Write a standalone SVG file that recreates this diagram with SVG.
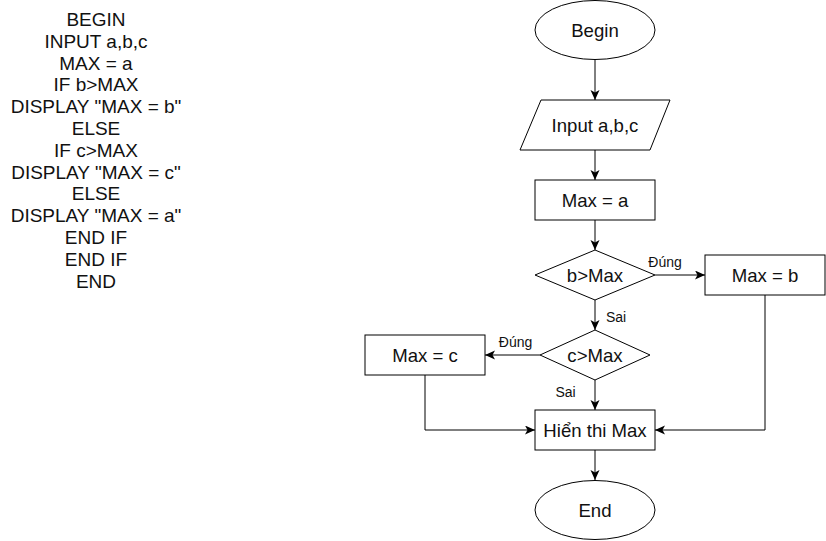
<svg xmlns="http://www.w3.org/2000/svg" width="826" height="541" viewBox="0 0 826 541">
<defs>
<style>
.shape{fill:#fff;stroke:#000;stroke-width:1}
.t{font-family:"Liberation Sans",Arial,sans-serif;font-size:18.6px;fill:#111;text-anchor:middle}
.code{font-family:"Liberation Sans",Arial,sans-serif;font-size:19px;fill:#111;text-anchor:middle}
.lbl{font-family:"Liberation Sans",Arial,sans-serif;font-size:14px;fill:#111;text-anchor:middle}
.edge{fill:none;stroke:#000;stroke-width:1;marker-end:url(#arr)}
</style>
<marker id="arr" markerUnits="userSpaceOnUse" markerWidth="12" markerHeight="10" refX="10" refY="4.5" orient="auto">
<path d="M0,0 L10,4.5 L0,9 L2.5,4.5 z" fill="#000"/>
</marker>
</defs>
<rect width="826" height="541" fill="#fff"/>
<g id="pseudocode" class="code">
<text x="96" y="26">BEGIN</text>
<text x="96" y="47.8">INPUT a,b,c</text>
<text x="96" y="69.6">MAX = a</text>
<text x="96" y="91.4">IF b&gt;MAX</text>
<text x="96" y="113.2">DISPLAY "MAX = b"</text>
<text x="96" y="135">ELSE</text>
<text x="96" y="156.8">IF c&gt;MAX</text>
<text x="96" y="178.6">DISPLAY "MAX = c"</text>
<text x="96" y="200.4">ELSE</text>
<text x="96" y="222.2">DISPLAY "MAX = a"</text>
<text x="96" y="244">END IF</text>
<text x="96" y="265.8">END IF</text>
<text x="96" y="287.6">END</text>
</g>
<g id="connectors">
<path class="edge" d="M595,60 L595,100"/>
<path class="edge" d="M595,150 L595,180"/>
<path class="edge" d="M595,220 L595,250"/>
<path class="edge" d="M655,275 L705,275"/>
<path class="edge" d="M595,300 L595,330"/>
<path class="edge" d="M540,355 L485,355"/>
<path class="edge" d="M595,380 L595,410"/>
<path class="edge" d="M425,375 L425,430 L535,430"/>
<path class="edge" d="M765,295 L765,430 L655,430"/>
<path class="edge" d="M595,450 L595,480"/>
<text class="lbl" x="665" y="267">Đúng</text>
<text class="lbl" x="616" y="322">Sai</text>
<text class="lbl" x="515.5" y="347">Đúng</text>
<text class="lbl" x="565.5" y="397">Sai</text>
</g>
<g id="begin"><ellipse class="shape" cx="595" cy="30" rx="60" ry="29.5"/><text class="t" x="595" y="36.7">Begin</text></g>
<g id="input"><polygon class="shape" points="541,100 670,100 650,150 520,150"/><text class="t" x="595" y="131.7">Input a,b,c</text></g>
<g id="maxa"><rect class="shape" x="535" y="180" width="120" height="40"/><text class="t" x="595" y="206.7">Max = a</text></g>
<g id="cond1"><polygon class="shape" points="595,250 655,275 595,300 535,275"/><text class="t" x="595" y="281.7">b&gt;Max</text></g>
<g id="maxb"><rect class="shape" x="705" y="255" width="120" height="40"/><text class="t" x="765" y="281.7">Max = b</text></g>
<g id="cond2"><polygon class="shape" points="595,330 650,355 595,380 540,355"/><text class="t" x="595" y="361.7">c&gt;Max</text></g>
<g id="maxc"><rect class="shape" x="365" y="335" width="120" height="40"/><text class="t" x="425" y="361.7">Max = c</text></g>
<g id="display"><rect class="shape" x="535" y="410" width="120" height="40"/><text class="t" x="595" y="436.7">Hiển thi Max</text></g>
<g id="end"><ellipse class="shape" cx="595" cy="510" rx="60" ry="29.5"/><text class="t" x="595" y="516.7">End</text></g>
</svg>
